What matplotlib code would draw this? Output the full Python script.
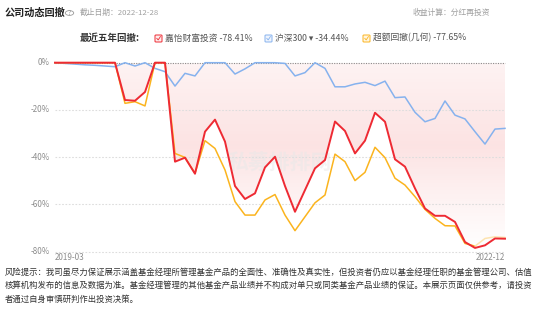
import matplotlib
matplotlib.use("Agg")
import matplotlib.pyplot as plt
from matplotlib.patches import FancyBboxPatch
from matplotlib.lines import Line2D
import numpy as np
import pandas as pd

plt.rcParams['font.family'] = ['Noto Sans CJK SC', 'DejaVu Sans']

# monthly drawdown data, 2019-03 .. 2022-12
dates = pd.date_range("2019-03-01", "2022-12-01", freq="MS").strftime("%Y-%m").tolist()

fund = [0, 0, 0, 0, 0, 0, 0, -15.8, -16.1, -12.4, 0, 0,
        -41.9, -40.2, -47.0, -29.2, -24.1, -33.4, -52.2, -57.7, -55.3, -44.3, -39.8,
        -52.2, -63.1, -53.9, -44.7, -41.2, -24.9, -28.9, -38.4, -33.0, -21.2, -25.0,
        -40.9, -44.0, -53.2, -61.7, -64.8, -64.8, -67.4, -75.9, -78.41, -77.3, -74.4, -74.5]
hs300 = [0, -0.3, -0.6, -0.9, -1.1, -1.4, -1.7, 0, -1.4, 0, -2.4, -3.8,
         -9.9, -4.5, -5.6, 0, 0, 0, -4.8, -2.6, 0, 0, 0,
         -0.3, -5.6, -4.2, 0, -2.4, -10.2, -10.2, -9.0, -8.3, -9.7, -7.8,
         -14.8, -14.5, -21.0, -25.0, -23.6, -16.2, -22.2, -23.8, -29.2, -34.44, -28.1, -27.8]
excess = [0, 0, 0, 0, 0, 0, 0, -17.2, -16.5, -18.3, 0, 0,
          -38.4, -40.1, -46.8, -33.0, -36.3, -45.4, -58.8, -64.5, -64.5, -58.1, -55.8,
          -64.5, -71.1, -65.2, -59.3, -56.0, -38.7, -41.9, -49.9, -46.4, -35.8, -40.2,
          -48.9, -51.8, -56.7, -62.1, -65.9, -69.0, -69.1, -76.5, -77.65, -74.4, -73.7, -74.0]

yticks = [0, -20, -40, -60, -80]
legend_names = ["嘉怡财富投资 -78.41%", "沪深300 ▾ -34.44%", "超额回撤(几何) -77.65%"]

RED = "#ee2a33"
BLUE = "#86b2ee"
YEL = "#fbb41e"
YEL_PALE = "#fde3b0"

W, H = 550, 311
fig = plt.figure(figsize=(W / 100, H / 100), dpi=100)


def fx(x):
    return x / W


def fy(y):
    return 1 - y / H


x = np.arange(len(dates))

ax = fig.add_axes([fx(55), fy(251.7), (505 - 55) / W, (251.7 - 62.7) / H])
ax.set_xlim(0, len(dates) - 1)
ax.set_ylim(-80, 0)
for s in ax.spines.values():
    s.set_visible(False)
ax.set_xticks([])
ax.set_yticks([])

# gradient fill between fund drawdown and zero
poly = ax.fill_between(x, fund, 0, color="none", lw=0)
yy = np.linspace(0, -80, 200)
alpha = np.interp(yy, [-80, -62, -35, -5, 0], [0.0, 0.06, 0.17, 0.09, 0.07])
grad = np.zeros((200, 1, 4))
grad[:, 0, 0] = 0.93
grad[:, 0, 1] = 0.35
grad[:, 0, 2] = 0.35
grad[:, 0, 3] = alpha
im = ax.imshow(grad, extent=[0, len(dates) - 1, -80, 0], aspect="auto", zorder=1)
im.set_clip_path(poly.get_paths()[0], transform=ax.transData)

# grid
for t in yticks:
    if t == 0:
        ax.axhline(t, color="#8a8a8a", lw=0.8, ls=(0, (1, 1.2)), zorder=2, clip_on=False)
    else:
        ax.axhline(t, color="#dddddd", lw=0.8, ls=(0, (1.5, 1.5)), zorder=2, clip_on=False)
    ax.text(-0.5, t, f"{t}%", ha="right", va="center", fontsize=5.8, color="#8c8c8c")

ax.text(0.5, 0.47, "私募排排网", transform=ax.transAxes, ha="center", va="center",
        fontsize=15, color="#e8e8e8", alpha=0.5, zorder=1.5, fontweight="bold")

ax.plot(x, hs300, color=BLUE, lw=1.1, zorder=3, clip_on=False)
ax.plot(x[:43], excess[:43], color=YEL, lw=1.1, zorder=4, clip_on=False)
ax.plot(x[42:], excess[42:], color=YEL_PALE, lw=1.1, zorder=4, clip_on=False)
ax.plot(x, fund, color=RED, lw=1.4, zorder=5, clip_on=False)

fig.text(fx(55), fy(258), dates[0], ha="left", va="center", fontsize=5.8, color="#8c8c8c")
fig.text(fx(505), fy(258), dates[-1], ha="right", va="center", fontsize=5.8, color="#8c8c8c")

# header
fig.text(fx(5), fy(13), "公司动态回撤", ha="left", va="center", fontsize=7.3, fontweight="bold", color="#222222")
fig.patches.append(plt.Circle((fx(69.5), fy(13)), 4.2 / W, transform=fig.transFigure,
                              fill=False, ec="#999999", lw=0.6))
fig.text(fx(69.5), fy(13.2), "?", ha="center", va="center", fontsize=5, color="#999999")
fig.text(fx(80), fy(13), "截止日期：2022-12-28", ha="left", va="center", fontsize=5.6, color="#a0a0a0")
fig.text(fx(490), fy(13), "收益计算：分红再投资", ha="right", va="center", fontsize=5.6, color="#a0a0a0")

# legend
fig.text(fx(80), fy(38), "最近五年回撤:", ha="left", va="center", fontsize=6.8, fontweight="bold", color="#333333")
box_x = [155, 265, 363]
box_c = [RED, BLUE, YEL]
box_fill = ["#fdecec", "#eef4fd", "#fff5e0"]
for bx, bc, bf, name in zip(box_x, box_c, box_fill, legend_names):
    fig.patches.append(FancyBboxPatch((fx(bx), fy(42)), 7 / W, 7 / H,
                                      boxstyle="round,pad=0,rounding_size=0.002",
                                      transform=fig.transFigure, fc=bf, ec=bc, lw=0.7))
    fig.lines.append(Line2D([fx(bx + 1.8), fx(bx + 3.2), fx(bx + 5.4)],
                            [fy(38.4), fy(39.9), fy(36.6)],
                            transform=fig.transFigure, color=bc, lw=0.6))
    fig.text(fx(bx + 10), fy(38), name, ha="left", va="center", fontsize=6.3, color="#555555")

# disclaimer
lines = [
    "风险提示：我司虽尽力保证展示涵盖基金经理所管理基金产品的全面性、准确性及真实性，但投资者仍应以基金经理任职的基金管理公司、估值",
    "核算机构发布的信息及数据为准。基金经理管理的其他基金产品业绩并不构成对单只或同类基金产品业绩的保证。本展示页面仅供参考，请投资",
    "者通过自身审慎研判作出投资决策。",
]
for i, ln in enumerate(lines):
    fig.text(fx(5), fy(272 + i * 13.5), ln, ha="left", va="center", fontsize=6.0, color="#333333")

fig.savefig("out.png", dpi=100)
